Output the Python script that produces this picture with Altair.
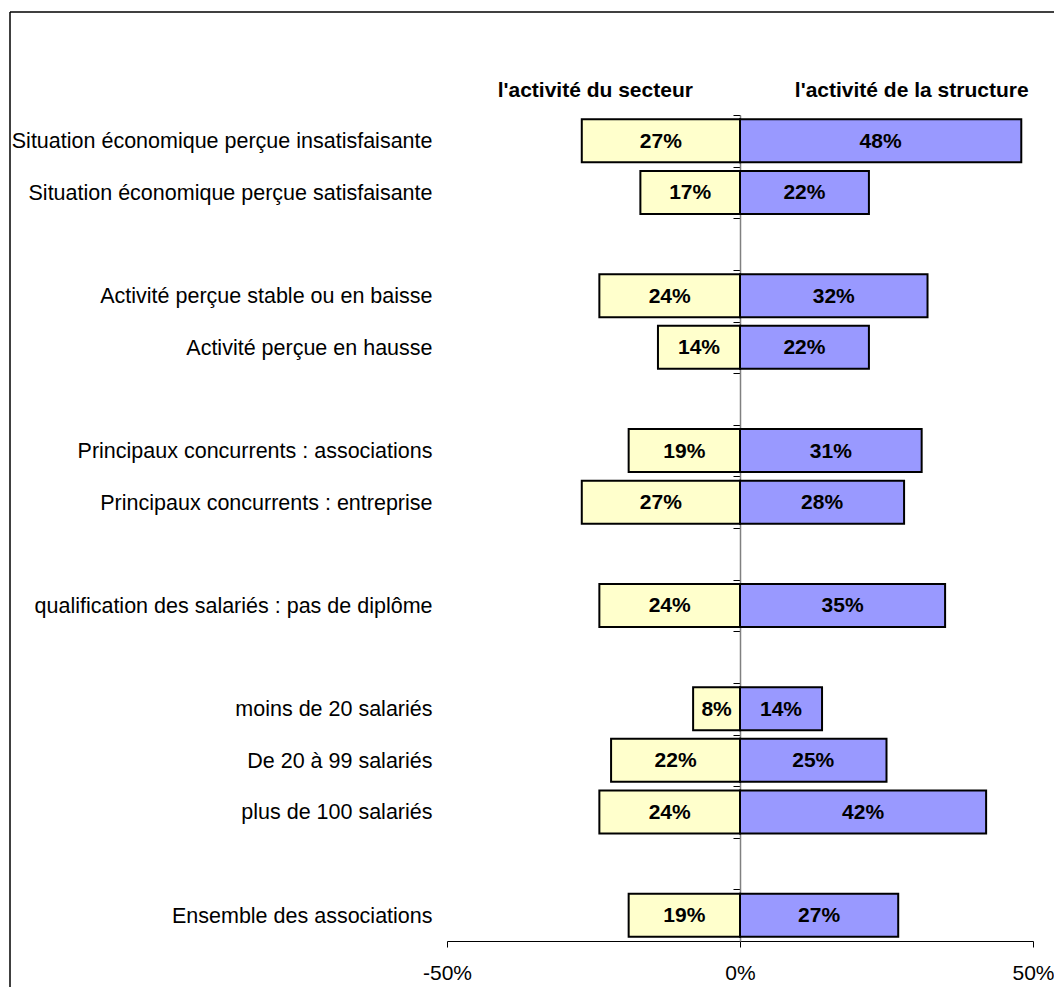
import altair as alt
import pandas as pd

# ---- data ----
categories = [
    "Situation économique perçue insatisfaisante",
    "Situation économique perçue satisfaisante",
    " ",
    "Activité perçue stable ou en baisse",
    "Activité perçue en hausse",
    "  ",
    "Principaux concurrents : associations",
    "Principaux concurrents : entreprise",
    "   ",
    "qualification des salariés : pas de diplôme",
    "    ",
    "moins de 20 salariés",
    "De 20 à 99 salariés",
    "plus de 100 salariés",
    "     ",
    "Ensemble des associations",
]
data_categories = [
    "Situation économique perçue insatisfaisante",
    "Situation économique perçue satisfaisante",
    "Activité perçue stable ou en baisse",
    "Activité perçue en hausse",
    "Principaux concurrents : associations",
    "Principaux concurrents : entreprise",
    "qualification des salariés : pas de diplôme",
    "moins de 20 salariés",
    "De 20 à 99 salariés",
    "plus de 100 salariés",
    "Ensemble des associations",
]
secteur = [27, 17, 24, 14, 19, 27, 24, 8, 22, 24, 19]
structure = [48, 22, 32, 22, 31, 28, 35, 14, 25, 42, 27]
series_names = ["l'activité du secteur", "l'activité de la structure"]
header_x = [-24.7, 29.3]
x_ticks = [-50, 0, 50]

FONT = "Arial, Liberation Sans, sans-serif"

rows = []
for c, s, t in zip(data_categories, secteur, structure):
    rows.append({"cat": c, "series": series_names[0], "value": -s, "pct": s})
    rows.append({"cat": c, "series": series_names[1], "value": t, "pct": t})
df = pd.DataFrame(rows)

headers = pd.DataFrame({"hx": header_x, "label": series_names})

W, H = 586, 826

y_enc = alt.Y(
    "cat:N",
    sort=None,
    scale=alt.Scale(domain=categories, paddingInner=0, paddingOuter=0),
    axis=alt.Axis(
        title=None,
        orient="left",
        offset=-W / 2,
        tickBand="extent",
        tickSize=7,
        tickColor="black",
        tickWidth=1,
        domainColor="#808080",
        domainWidth=1.5,
        labelPadding=301,
        labelFontSize=21.5,
        labelFont=FONT,
        labelColor="black",
        labelLimit=1000,
        labelOffset=1,
        grid=False,
    ),
)

x_scale = alt.Scale(domain=[-50, 50], nice=False, zero=False)
x_axis = alt.Axis(
    title=None,
    values=x_ticks,
    labelExpr="datum.value + '%'",
    labelFlush=False,
    labelOverlap=False,
    tickSize=6,
    tickColor="black",
    domainColor="black",
    domainWidth=1,
    labelFontSize=21,
    labelFont=FONT,
    labelColor="black",
    labelPadding=15,
    grid=False,
)

bars = alt.Chart(df).mark_bar(size=43, stroke="black", strokeWidth=2).encode(
    y=y_enc,
    x=alt.X("value:Q", scale=x_scale, axis=x_axis, stack=None),
    color=alt.Color(
        "series:N",
        scale=alt.Scale(domain=series_names, range=["#FFFFCC", "#9999FF"]),
        legend=None,
    ),
)

labels = (
    alt.Chart(df)
    .transform_calculate(mid="datum.value / 2", txt="datum.pct + '%'")
    .mark_text(font=FONT, fontSize=21, fontWeight="bold", color="black", baseline="middle", dy=1)
    .encode(
        y=y_enc,
        x=alt.X("mid:Q", scale=x_scale, axis=x_axis),
        text="txt:N",
    )
)

head = (
    alt.Chart(headers)
    .mark_text(font=FONT, fontSize=21, fontWeight="bold", color="black", baseline="alphabetic")
    .encode(
        x=alt.X("hx:Q", scale=x_scale, axis=x_axis),
        y=alt.value(-18),
        text="label:N",
    )
)

frame_src = pd.DataFrame({"k": [0]})
frame_top = alt.Chart(frame_src).mark_rule(color="black", strokeWidth=1.5).encode(
    x=alt.value(-437), x2=alt.value(700), y=alt.value(-103)
)
frame_left = alt.Chart(frame_src).mark_rule(color="black", strokeWidth=1.5).encode(
    x=alt.value(-437), y=alt.value(-103), y2=alt.value(950)
)

chart = (
    alt.layer(bars, labels, head, frame_top, frame_left)
    .properties(
        width=W,
        height=H,
        autosize=alt.AutoSizeParams(type="none"),
        padding={"left": 447, "top": 115, "right": 21, "bottom": 46},
        background="white",
    )
    .configure_view(stroke=None)
)

chart.save("out.html", embed_options={"renderer": "svg", "actions": False})
